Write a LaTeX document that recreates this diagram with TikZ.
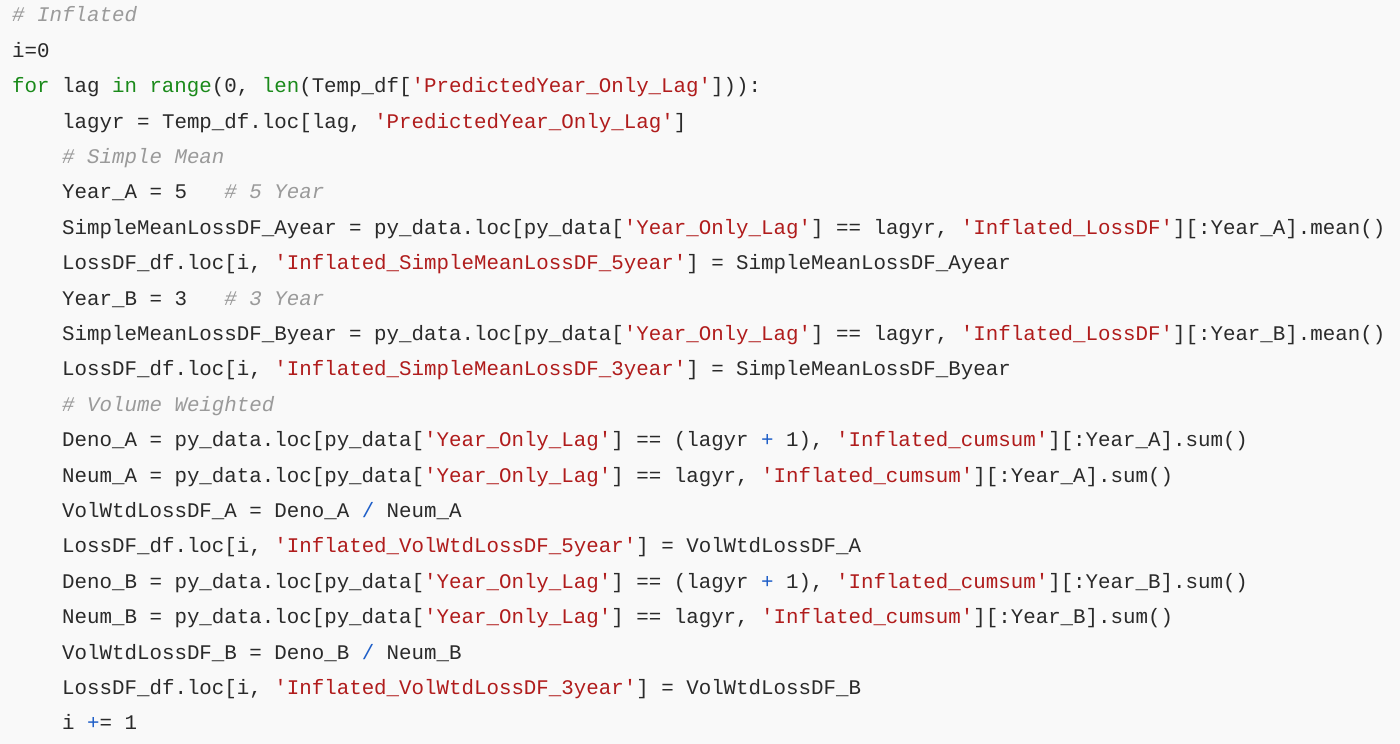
\documentclass[tikz,border=0pt]{standalone}
\usepackage{fontspec}
\newfontfamily\codefont{Liberation Mono}
\definecolor{bgc}{HTML}{F9F9F9}
\definecolor{strc}{HTML}{B01C1C}
\definecolor{kwc}{HTML}{1A8A1A}
\definecolor{cmc}{HTML}{9A9A9A}
\definecolor{opc}{HTML}{1F5FC8}
\definecolor{txc}{HTML}{2A2A2A}
\newcommand\str[1]{\textcolor{strc}{#1}}
\newcommand\kw[1]{\textcolor{kwc}{#1}}
\newcommand\cm[1]{\textcolor{cmc}{\itshape #1}}
\newcommand\op[1]{\textcolor{opc}{#1}}
\begin{document}
\begin{tikzpicture}[x=1pt,y=1pt,
  codeline/.style={anchor=base west,inner sep=0pt,text=txc,font=\codefont\fontsize{20.8}{24}\selectfont}]
\fill[bgc] (0,0) rectangle (1400,744);
\useasboundingbox (0,0) rectangle (1400,744);
\def\L#1#2#3{\node[codeline] (l#1) at (#2,{744-22-35.4*#1}) {#3};}
\L{0}{12}{\cm{\# Inflated}}
\L{1}{12}{i=0}
\L{2}{12}{\kw{for} lag \kw{in} \kw{range}(0, \kw{len}(Temp\_df[\str{'PredictedYear\_Only\_Lag'}])):}
\L{3}{62}{lagyr = Temp\_df.loc[lag, \str{'PredictedYear\_Only\_Lag'}]}
\L{4}{62}{\cm{\# Simple Mean}}
\L{5}{62}{Year\_A = 5\ \ \ \cm{\# 5 Year}}
\L{6}{62}{SimpleMeanLossDF\_Ayear = py\_data.loc[py\_data[\str{'Year\_Only\_Lag'}] == lagyr, \str{'Inflated\_LossDF'}][:Year\_A].mean()}
\L{7}{62}{LossDF\_df.loc[i, \str{'Inflated\_SimpleMeanLossDF\_5year'}] = SimpleMeanLossDF\_Ayear}
\L{8}{62}{Year\_B = 3\ \ \ \cm{\# 3 Year}}
\L{9}{62}{SimpleMeanLossDF\_Byear = py\_data.loc[py\_data[\str{'Year\_Only\_Lag'}] == lagyr, \str{'Inflated\_LossDF'}][:Year\_B].mean()}
\L{10}{62}{LossDF\_df.loc[i, \str{'Inflated\_SimpleMeanLossDF\_3year'}] = SimpleMeanLossDF\_Byear}
\L{11}{62}{\cm{\# Volume Weighted}}
\L{12}{62}{Deno\_A = py\_data.loc[py\_data[\str{'Year\_Only\_Lag'}] == (lagyr \op{+} 1), \str{'Inflated\_cumsum'}][:Year\_A].sum()}
\L{13}{62}{Neum\_A = py\_data.loc[py\_data[\str{'Year\_Only\_Lag'}] == lagyr, \str{'Inflated\_cumsum'}][:Year\_A].sum()}
\L{14}{62}{VolWtdLossDF\_A = Deno\_A \op{/} Neum\_A}
\L{15}{62}{LossDF\_df.loc[i, \str{'Inflated\_VolWtdLossDF\_5year'}] = VolWtdLossDF\_A}
\L{16}{62}{Deno\_B = py\_data.loc[py\_data[\str{'Year\_Only\_Lag'}] == (lagyr \op{+} 1), \str{'Inflated\_cumsum'}][:Year\_B].sum()}
\L{17}{62}{Neum\_B = py\_data.loc[py\_data[\str{'Year\_Only\_Lag'}] == lagyr, \str{'Inflated\_cumsum'}][:Year\_B].sum()}
\L{18}{62}{VolWtdLossDF\_B = Deno\_B \op{/} Neum\_B}
\L{19}{62}{LossDF\_df.loc[i, \str{'Inflated\_VolWtdLossDF\_3year'}] = VolWtdLossDF\_B}
\L{20}{62}{i \op{+}= 1}
\end{tikzpicture}
\end{document}
